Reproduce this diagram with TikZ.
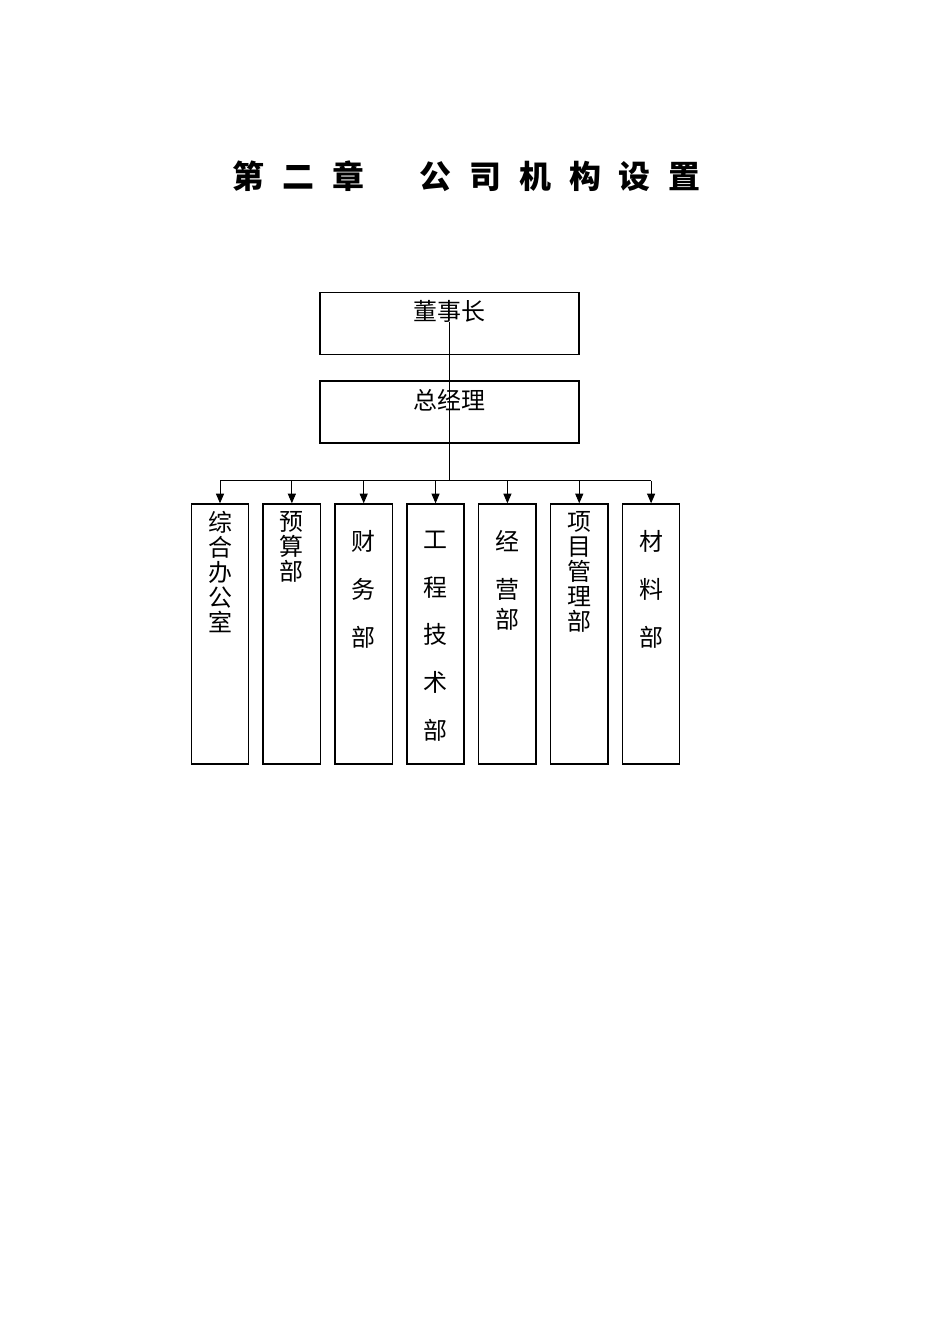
\documentclass[tikz,border=0pt]{standalone}
\usepackage{fontspec}
\setmainfont{Noto Sans CJK SC}
\usetikzlibrary{positioning}
\usetikzlibrary{arrows.meta}

\newcommand{\tgap}{\hspace{11.3pt}}

\begin{document}
\begin{tikzpicture}[x=0.6263pt, y=-0.6263pt,
  box/.style={rectangle, draw, line width=0.9pt, minimum width=162.2pt, minimum height=38.8pt, inner sep=0pt},
  dept/.style={rectangle, draw, line width=0.9pt, minimum width=35.9pt, minimum height=162.8pt, inner sep=0pt},
  lbl/.style={inner sep=0pt, font=\fontsize{15}{15.6}\selectfont},
  vlbl/.style={lbl, align=center, anchor=north},
  conn/.style={line width=0.6pt}]
\useasboundingbox (0,0) rectangle (950,1344);

%title
\node (title) at (466.5,176) {\fontsize{20}{24}\selectfont\bfseries 第\tgap 二\tgap 章\hspace{34.5pt}公\tgap 司\tgap 机\tgap 构\tgap 设\tgap 置};

%top
\node [box] (chair) at (449.5,323.5) {};
\node [lbl] (chairtxt) at ([yshift=-12pt]chair.north) {董事长};
\node [box, below=15.8pt of chair] (gm) {};
\node [lbl] (gmtxt) at ([yshift=-12.5pt]gm.north) {总经理};
\coordinate (bus) at ([yshift=-23.2pt]gm.south);
\draw [conn] (chairtxt.south) to (bus);

%departments
\node [dept] (d1) at (220,634) {};
\node [dept, right=8.2pt of d1] (d2) {};
\node [dept, right=8.2pt of d2] (d3) {};
\node [dept, right=8.2pt of d3] (d4) {};
\node [dept, right=8.2pt of d4] (d5) {};
\node [dept, right=8.2pt of d5] (d6) {};
\node [dept, right=8.2pt of d6] (d7) {};

\node [vlbl] (t1) at ([yshift=-5pt]d1.north) {综\\合\\办\\公\\室};
\node [vlbl] (t2) at ([yshift=-5pt]d2.north) {预\\算\\部};
\node [vlbl] (t3) at ([yshift=-17pt]d3.north) {财\\[14.4pt]务\\[14.4pt]部};
\node [vlbl] (t4) at ([yshift=-17pt]d4.north) {工\\[14.4pt]程\\[14.4pt]技\\[14.4pt]术\\[14.4pt]部};
\node [vlbl] (t5) at ([yshift=-17pt]d5.north) {经\\[14.4pt]营\\[3pt]部};
\node [vlbl] (t6) at ([yshift=-5pt]d6.north) {项\\目\\管\\理\\部};
\node [vlbl] (t7) at ([yshift=-17pt]d7.north) {材\\[14.4pt]料\\[14.4pt]部};

%branches
\draw [conn] (d1.north |- bus) to (d7.north |- bus);
\foreach \i in {1,...,7}
  \draw [conn, -{Triangle[length=6pt,width=5pt]}] (d\i.north |- bus) to (d\i.north);

\end{tikzpicture}
\end{document}
